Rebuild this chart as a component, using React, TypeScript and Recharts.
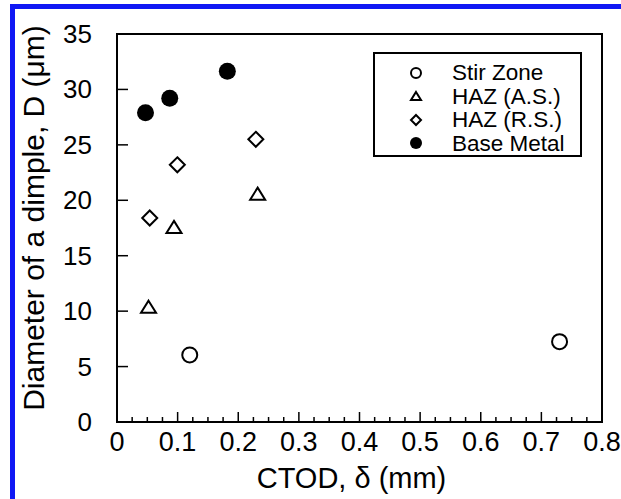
import { ScatterChart, Scatter, XAxis, YAxis, ReferenceArea } from 'recharts';

// CTOD (mm) vs dimple diameter (µm)
const stirZone = [{ x: 0.12, y: 6.05 }, { x: 0.73, y: 7.25 }];
const hazAS = [{ x: 0.052, y: 10.4 }, { x: 0.094, y: 17.6 }, { x: 0.232, y: 20.6 }];
const hazRS = [{ x: 0.054, y: 18.4 }, { x: 0.0995, y: 23.2 }, { x: 0.229, y: 25.5 }];
const baseMetal = [{ x: 0.047, y: 27.9 }, { x: 0.087, y: 29.2 }, { x: 0.182, y: 31.65 }];

const X_MAJOR = [0, 0.1, 0.2, 0.3, 0.4, 0.5, 0.6, 0.7, 0.8];
const Y_TICKS = [0, 5, 10, 15, 20, 25, 30, 35];
// 3 minor ticks between each major
const X_TICKS = X_MAJOR.flatMap((v, i) => i === X_MAJOR.length - 1 ? [v] : [0, 1, 2, 3].map(k => +(v + k * 0.025).toFixed(3)));

const FONT = '"Liberation Sans", Arial, Helvetica, sans-serif';
const isMajor = (v: number) => Math.abs(v * 10 - Math.round(v * 10)) < 1e-6;

type Sym = 'circle' | 'triangle' | 'diamond' | 'dot';
const Marker = ({ cx, cy, kind, s }: { cx: number; cy: number; kind: Sym; s: number }) => {
    const sw = 2;
    if (kind === 'circle') return <circle cx={cx} cy={cy} r={s / 2} fill="#fff" stroke="#000" strokeWidth={sw} />;
    if (kind === 'dot') return <circle cx={cx} cy={cy} r={s / 2 + 1} fill="#000" />;
    if (kind === 'triangle') {
        const h = s * 0.8;
        return <polygon points={`${cx},${cy - h / 2} ${cx + s / 2},${cy + h / 2} ${cx - s / 2},${cy + h / 2}`} fill="#fff" stroke="#000" strokeWidth={sw} />;
    }
    const r = s / 2;
    return <polygon points={`${cx},${cy - r} ${cx + r},${cy} ${cx},${cy + r} ${cx - r},${cy}`} fill="#fff" stroke="#000" strokeWidth={sw} />;
};

const SERIES: { name: string; data: { x: number; y: number }[]; kind: Sym }[] = [
    { name: 'Stir Zone', data: stirZone, kind: 'circle' },
    { name: 'HAZ (A.S.)', data: hazAS, kind: 'triangle' },
    { name: 'HAZ (R.S.)', data: hazRS, kind: 'diamond' },
    { name: 'Base Metal', data: baseMetal, kind: 'dot' },
];

const XTick = ({ x, y, payload }: any) => {
    const v = payload.value as number;
    const major = isMajor(v);
    return (
        <g>
            <line x1={x} x2={x} y1={y} y2={y - (major ? 10 : 5)} stroke="#000" strokeWidth={1.5} />
            {major && <text x={x} y={y + 29} textAnchor="middle" fontSize={27} fontFamily={FONT} fill="#000">{v === 0 ? '0' : v.toFixed(1)}</text>}
        </g>
    );
};

const YTick = ({ x, y, payload }: any) => (
    <g>
        <line x1={x} x2={x + 11} y1={y} y2={y} stroke="#000" strokeWidth={1.5} />
        <text x={x - 25} y={y + 9} textAnchor="end" fontSize={26} fontFamily={FONT} fill="#000">{payload.value}</text>
    </g>
);

const LegendBox = () => (
    <div style={{ position: 'absolute', left: 373, top: 52, width: 205, height: 94, border: '2px solid #000', background: '#fff', fontFamily: FONT, fontSize: 22.5, paddingTop: 7 }}>
        {SERIES.map(s => (
            <div key={s.name} style={{ display: 'flex', alignItems: 'center', height: 23.5, lineHeight: '23.5px' }}>
                <svg width={77} height={20}><Marker cx={41} cy={10} kind={s.kind} s={10} /></svg>
                <span>{s.name}</span>
            </div>
        ))}
    </div>
);

export default function App() {
    return (
        <div style={{ position: 'absolute', left: 0, top: 0, width: 621, height: 499, background: '#fff', overflow: 'hidden' }}>
            <div style={{ position: 'absolute', left: 10, top: 4, width: 640, height: 520, borderTop: '5px solid #1018f4', borderLeft: '5px solid #1018f4' }} />
            <div style={{ position: 'absolute', left: 0, top: 0 }}>
                <ScatterChart width={621} height={499} margin={{ top: 34, right: 19, bottom: 0, left: 0 }}>
                    <XAxis type="number" dataKey="x" domain={[0, 0.8]} ticks={X_TICKS} interval={0} allowDataOverflow
                        axisLine={false} tickLine={false} tickSize={0} tickMargin={0} tick={<XTick />} height={77}
                        label={{ content: ({ viewBox }: any) => (
                            <text x={viewBox.x + viewBox.width / 2 - 8} y={viewBox.y + 66} textAnchor="middle" fontSize={29} fontFamily={FONT} fill="#000">CTOD, δ (mm)</text>
                        ) }} />
                    <YAxis type="number" dataKey="y" domain={[0, 35]} ticks={Y_TICKS} interval={0} allowDataOverflow
                        axisLine={false} tickLine={false} tickSize={0} tickMargin={0} tick={<YTick />} width={117}
                        label={{ content: ({ viewBox }: any) => {
                            const cx = 33, cy = viewBox.y + viewBox.height / 2 - 10;
                            return <text x={cx} y={cy} transform={`rotate(-90 ${cx} ${cy})`} textAnchor="middle" dominantBaseline="central" fontSize={30} fontFamily={FONT} fill="#000">Diameter of a dimple, D (μm)</text>;
                        } }} />
                    <ReferenceArea x1={0} x2={0.8} y1={0} y2={35} fill="none" stroke="#000" strokeWidth={2} ifOverflow="visible" />
                    {SERIES.map(s => (
                        <Scatter key={s.name} name={s.name} data={s.data} isAnimationActive={false}
                            shape={(p: any) => <Marker cx={p.cx} cy={p.cy} kind={s.kind} s={15} />} />
                    ))}
                </ScatterChart>
            </div>
            <LegendBox />
        </div>
    );
}
